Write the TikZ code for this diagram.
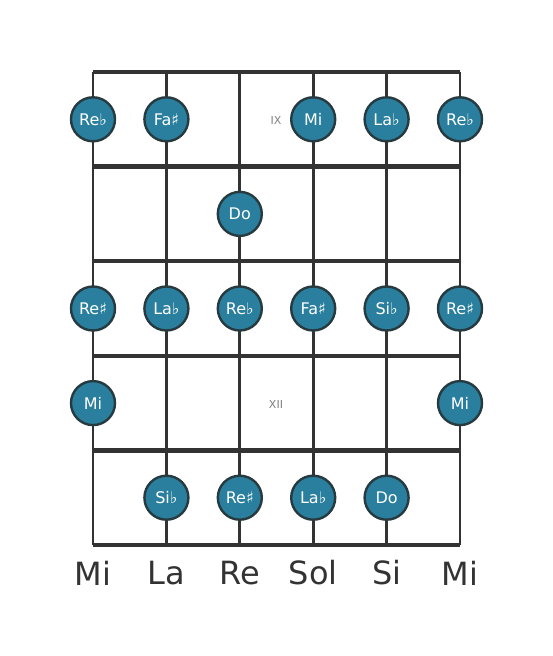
\documentclass[tikz,border=0pt]{standalone}
\usepackage{fontspec}
\setmainfont{DejaVu Sans}
\definecolor{notefill}{HTML}{2A7F9E}
\definecolor{noteedge}{HTML}{263A40}
\definecolor{linec}{HTML}{333333}
\begin{document}
\begin{tikzpicture}[x=1pt,y=-1pt,
  fret/.style={line width=4.5pt,draw=linec},
  string/.style={line width=2.8pt,draw=linec},
  note/.style={circle,fill=notefill,draw=noteedge,line width=2.4pt,minimum size=44pt,inner sep=0pt,text=white,font=\fontsize{16}{16}\selectfont},
  fretnum/.style={text=gray,font=\fontsize{11}{11}\selectfont},
  strname/.style={text=linec,font=\fontsize{32}{32}\selectfont}]
\useasboundingbox (0,0) rectangle (553,656);
% strings
\foreach \i/\x in {1/93,2/166.4,3/239.8,4/313.2,5/386.6,6/460}{
  \coordinate (st\i) at (\x,72);
  \coordinate (sb\i) at (\x,545);
  \draw[string] (st\i) -- (sb\i);
}
% frets
\foreach \j/\y in {0/72,1/166.6,2/261.2,3/355.8,4/450.4,5/545}{
  \coordinate (fl\j) at (93,\y);
  \coordinate (fr\j) at (460,\y);
  \draw[fret] (fl\j) -- (fr\j);
}
% notes
\node[note] (n11) at (93,119.3) {Re♭};
\node[note] (n12) at (166.4,119.3) {Fa♯};
\node[fretnum] (f9) at (276,120) {IX};
\node[note] (n14) at (313.2,119.3) {Mi};
\node[note] (n15) at (386.6,119.3) {La♭};
\node[note] (n16) at (460,119.3) {Re♭};
\node[note] (n23) at (239.8,213.9) {Do};
\node[note] (n31) at (93,308.5) {Re♯};
\node[note] (n32) at (166.4,308.5) {La♭};
\node[note] (n33) at (239.8,308.5) {Re♭};
\node[note] (n34) at (313.2,308.5) {Fa♯};
\node[note] (n35) at (386.6,308.5) {Si♭};
\node[note] (n36) at (460,308.5) {Re♯};
\node[note] (n41) at (93,403.1) {Mi};
\node[fretnum] (f12) at (276,404) {XII};
\node[note] (n46) at (460,403.1) {Mi};
\node[note] (n52) at (166.4,497.7) {Si♭};
\node[note] (n53) at (239.8,497.7) {Re♯};
\node[note] (n54) at (313.2,497.7) {La♭};
\node[note] (n55) at (386.6,497.7) {Do};
% string names
\node[strname] (l1) at (93,573) {Mi};
\node[strname] (l2) at (166.4,573) {La};
\node[strname] (l3) at (239.8,573) {Re};
\node[strname] (l4) at (313.2,573) {Sol};
\node[strname] (l5) at (386.6,573) {Si};
\node[strname] (l6) at (460,573) {Mi};
\end{tikzpicture}
\end{document}
